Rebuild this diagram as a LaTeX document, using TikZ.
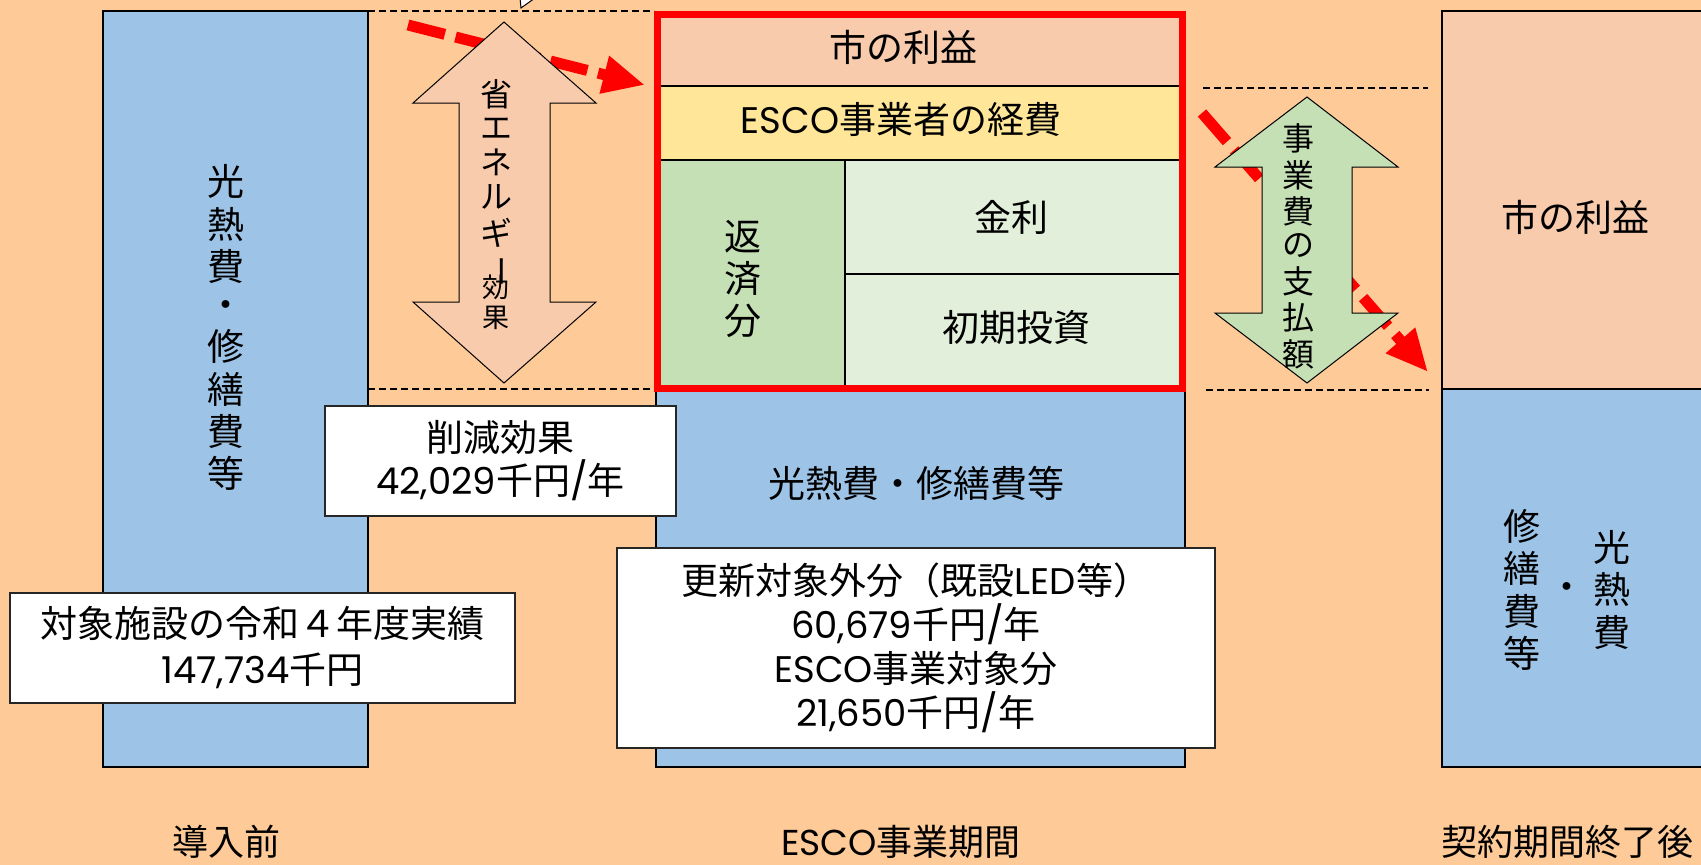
\documentclass[tikz,border=0pt]{standalone}
\usepackage{fontspec}
\setmainfont{Noto Sans CJK JP}
\newfontfamily\geo{Poppins}
\usepackage{graphicx}
\usetikzlibrary{arrows.meta}

\definecolor{peach}{RGB}{253,202,152}
\definecolor{costblue}{RGB}{157,195,230}
\definecolor{profit}{RGB}{248,203,173}
\definecolor{fee}{RGB}{255,230,153}
\definecolor{repay}{RGB}{197,224,180}
\definecolor{repaylight}{RGB}{226,239,218}

\newcommand{\jsize}[2]{\fontsize{#1}{#2}\selectfont}
\newcommand{\tate}[1]{\begin{tabular}{@{}c@{}}#1\end{tabular}}
\newcommand{\chouon}{\rotatebox[origin=c]{-90}{ー}}
\newcommand{\lat}[1]{{\geo #1}}

\tikzset{
  block/.style={draw=black, line width=2.4pt},
  note/.style={draw=black!85, line width=1.8pt, fill=white, inner sep=0pt, align=center},
  guide/.style={line width=1.4pt, dash pattern=on 7pt off 4pt},
  flow/.style={red, line width=11pt, dash pattern=on 38pt off 11pt, -{Triangle[length=42pt,width=36pt]}},
  bigarrow/.style={draw=black, line width=1pt},
  stage/.style={font=\jsize{36}{40}, inner sep=0pt},
}

\begin{document}
\begin{tikzpicture}[x=1pt, y=-1pt]
		\clip (0,0) rectangle (1701,865);
		\fill[peach] (0,0) rectangle (1701,865);

		% before
		\draw[block, fill=costblue] (103,11) rectangle (368,767);
		\node[font=\jsize{37}{37.6}] (beforecost) at (226,332) {\tate{光\\熱\\費\\・\\修\\繕\\費\\等}};

		% guide lines
		\draw[guide] (368,11) -- (654,11);
		\draw[guide] (368,389) -- (654,389);
		\draw[guide] (1203,88) -- (1428,88);
		\draw[guide] (1206,390) -- (1429,390);

		\filldraw[fill=white, draw=black, line width=1pt] (520,-2) -- (521,8) -- (535,-2) -- cycle;

		% ESCO period
		\draw[block, fill=costblue] (656,387) rectangle (1185,767);
		\draw[block, fill=profit] (657,14) rectangle (1183,86);
		\draw[block, fill=fee] (657,86) rectangle (1183,160);
		\draw[block, fill=repay] (657,160) rectangle (845,387);
		\draw[block, fill=repaylight] (845,160) rectangle (1183,274);
		\draw[block, fill=repaylight] (845,274) rectangle (1183,387);
		\draw[red, line width=7pt] (657.5,14.5) rectangle (1182.5,388.5);

		\node[font=\jsize{37}{40}] (cityprofit) at (903,47) {市の利益};
		\node[font=\jsize{37}{40}] (escofee) at (901,119) {\lat{ESCO}事業者の経費};
		\node[font=\jsize{37}{37.5}] (repayment) at (743,283) {\tate{返\\済\\分}};
		\node[font=\jsize{37}{40}] (interest) at (1011,217) {金利};
		\node[font=\jsize{37}{40}] (invest) at (1016,328) {初期投資};
		\node[font=\jsize{37}{40}] (duringcost) at (916,483) {光熱費・修繕費等};

		% after contract
		\draw[block, fill=costblue] (1442,389) rectangle (1720,767);
		\draw[block, fill=profit] (1442,11) rectangle (1720,389);
		\node[font=\jsize{37}{40}] (afterprofit) at (1575,217) {市の利益};
		\node[font=\jsize{37}{37.8}] (aftercost) at (1567,594) {\tate{修\\繕\\費\\等}\hspace{8pt}・\hspace{8pt}\tate{光\\熱\\費}};

		% red flow arrows
		\coordinate (savestart) at (408,25);
		\coordinate (saveend) at (645,85);
		\coordinate (paystart) at (1202,113);
		\coordinate (payend) at (1428,372);
		\draw[flow] (savestart) -- (saveend);
		\draw[flow] (paystart) -- (payend);

		% double arrows
		\filldraw[bigarrow, fill=profit] (504,22) -- (596,103) -- (550,103) -- (550,302) -- (596,302) -- (504,383)
			-- (413,302) -- (459,302) -- (459,103) -- (413,103) -- cycle;
		\node[font=\jsize{32}{32.5}] (saving) at (496,184) {\tate{省\\エ\\ネ\\ル\\ギ\\\chouon}};
		\node[font=\jsize{27}{27.5}] (savingeffect) at (496,305) {\tate{効\\果}};

		\filldraw[bigarrow, fill=repay] (1307,97) -- (1398,167) -- (1352,167) -- (1352,313) -- (1398,313) -- (1307,383)
			-- (1215,313) -- (1262,313) -- (1262,167) -- (1215,167) -- cycle;
		\node[font=\jsize{32}{32.3}] (payment) at (1298,250) {\tate{事\\業\\費\\の\\支\\払\\額}};

		% notes
		\node[note, minimum width=505pt, minimum height=110pt, font=\jsize{37}{46}] (actual) at (262.5,648) {対象施設の令和４年度実績\\\lat{147,734}千円};
		\node[note, minimum width=351pt, minimum height=110pt, font=\jsize{37}{43}] (reduction) at (500.5,461) {削減効果\\\lat{42,029}千円\lat{/}年};
		\node[note, minimum width=598pt, minimum height=200pt, font=\jsize{37}{44}] (breakdown) at (916,648) {更新対象外分（既設\lat{LED}等）\\\lat{60,679}千円\lat{/}年\\\lat{ESCO}事業対象分\\\lat{21,650}千円\lat{/}年};

		% stage labels
		\node[stage] (stagebefore) at (226,842) {導入前};
		\node[stage] (stageesco) at (901,842) {\lat{ESCO}事業期間};
		\node[stage] (stageafter) at (1567,842) {契約期間終了後};
\end{tikzpicture}
\end{document}
